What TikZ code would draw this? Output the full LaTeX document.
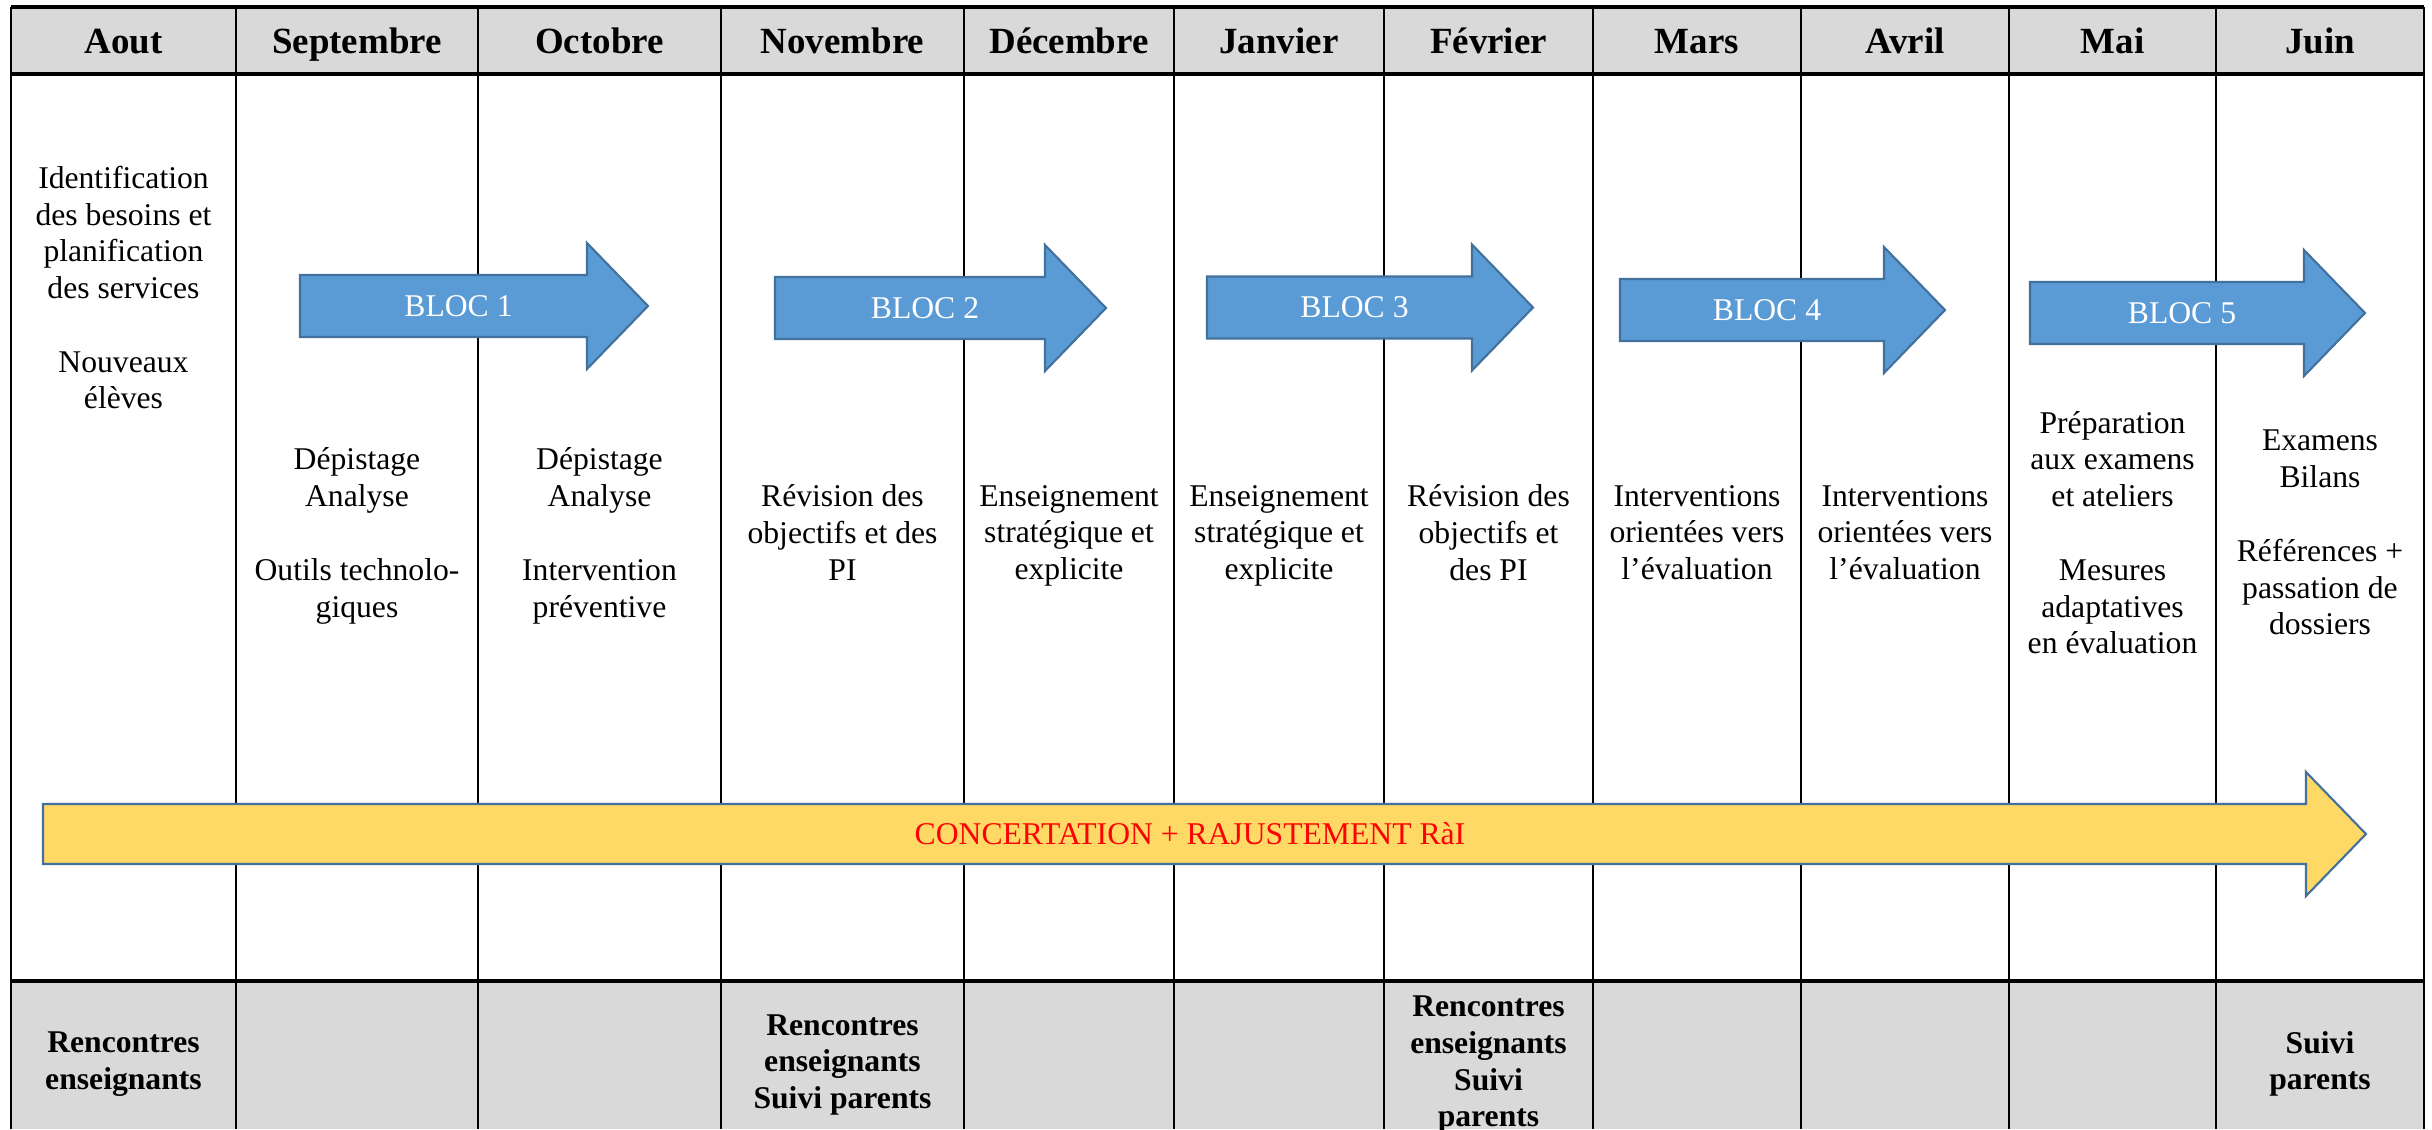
\documentclass[tikz,border=0pt]{standalone}
\usepackage{fontspec}
\setmainfont{Liberation Serif}
\definecolor{headgray}{HTML}{D9D9D9}
\definecolor{blocblue}{HTML}{5B9BD5}
\definecolor{blocedge}{HTML}{41719C}
\definecolor{raiyellow}{HTML}{FFD966}

\begin{document}
\begin{tikzpicture}[x=0.01cm,y=-0.01cm,
  rule/.style={line width=0.6pt},
  frame/.style={line width=1pt},
  month/.style={inner sep=0pt,text height=6.9pt,text depth=0pt,font=\bfseries\fontsize{10.5}{12.6}\selectfont},
  task/.style={inner sep=0pt,align=center,font=\fontsize{9}{10.45}\selectfont,
    execute at begin node=\strut,execute at end node=\strut},
  meet/.style={task,font=\bfseries\fontsize{9}{10.45}\selectfont},
  bloc/.style={draw=blocedge,fill=blocblue,line width=0.6pt},
  rai/.style={draw=blocedge,fill=raiyellow,line width=0.6pt},
  bloclabel/.style={inner sep=0pt,text=white,font=\fontsize{9}{10.45}\selectfont}]
\useasboundingbox (0,0) rectangle (2432,1129);
\fill[headgray] (11,7) rectangle (2424,74);
\fill[headgray] (11,981) rectangle (2424,1129);
\foreach \x in {11,236,478,721,964,1174,1384,1593,1801,2009,2216,2424}
  \draw[rule] (\x,7) -- (\x,1129);
\foreach \y in {7,74,981}
  \draw[frame] (11,\y) -- (2424,\y);
\foreach \m/\c [count=\i] in {Aout/123.5,Septembre/357,Octobre/599.5,Novembre/842.5,Décembre/1069,Janvier/1279,Février/1488.5,Mars/1697,Avril/1905,Mai/2112.5,Juin/2320}
  \node[month] (m\i) at (\c,41) {\m};

\node[task] (t1) at (123.5,293) {Identification\\des besoins et\\planification\\des services\\[10.5pt]Nouveaux\\élèves};
\node[task] (t2) at (357,538) {Dépistage\\Analyse\\[10.5pt]Outils technolo-\\giques};
\node[task] (t3) at (599.5,538) {Dépistage\\Analyse\\[10.5pt]Intervention\\préventive};
\node[task] (t4) at (842.5,538) {Révision des\\objectifs et des\\PI};
\node[task] (t5) at (1069,538) {Enseignement\\stratégique et\\explicite};
\node[task] (t6) at (1279,538) {Enseignement\\stratégique et\\explicite};
\node[task] (t7) at (1488.5,538) {Révision des\\objectifs et\\des PI};
\node[task] (t8) at (1697,538) {Interventions\\orientées vers\\l’évaluation};
\node[task] (t9) at (1905,538) {Interventions\\orientées vers\\l’évaluation};
\node[task] (t10) at (2112.5,538) {Préparation\\aux examens\\et ateliers\\[10.5pt]Mesures\\adaptatives\\en évaluation};
\node[task] (t11) at (2320,538) {Examens\\Bilans\\[10.5pt]Références +\\passation de\\dossiers};

\foreach \n/\l/\h/\y in {1/300/587/306,2/775/1045/308,3/1207/1472/307.5,4/1620/1884/310,5/2030/2304/313}{
  \draw[bloc] (\l,\y-31) -- (\h,\y-31) -- (\h,\y-63) -- (\h+61,\y) -- (\h,\y+63) -- (\h,\y+31) -- (\l,\y+31) -- cycle;
  \node[bloclabel] (b\n) at ({(\l+\h)/2+15},\y) {BLOC \n};
}
\draw[rai] (43,804) -- (2306,804) -- (2306,772) -- (2366,834) -- (2306,896) -- (2306,864) -- (43,864) -- cycle;
\node[bloclabel,text=red] (rai) at (1190,834) {CONCERTATION + RAJUSTEMENT RàI};

\node[meet] (r1) at (123.5,1066) {Rencontres\\enseignants};
\node[meet] (r4) at (842.5,1067) {Rencontres\\enseignants\\Suivi parents};
\node[meet] (r7) at (1488.5,1067) {Rencontres\\enseignants\\Suivi\\parents};
\node[meet] (r11) at (2320,1066) {Suivi\\parents};
\end{tikzpicture}
\end{document}
